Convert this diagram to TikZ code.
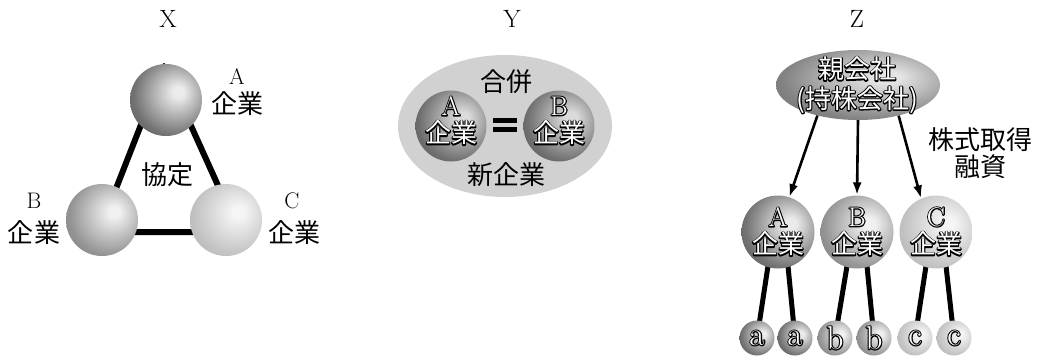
\documentclass[tikz,border=0pt]{standalone}
\usepackage{fontspec}
\newfontfamily\jp{Noto Sans CJK JP}
\usetikzlibrary{arrows.meta,calc,shapes.geometric}
\pgfdeclarelayer{bg}
\pgfsetlayers{bg,main}
\pgfdeclareradialshading[sphhi,sphmid,sphedge]{sphere}{\pgfpoint{9bp}{6bp}}{%
 color(0bp)=(sphhi);color(4bp)=(sphhi);color(28bp)=(sphmid);color(56bp)=(sphedge);color(75bp)=(sphedge)}
\newcommand\outl[1]{\rlap{\special{pdf:literal direct 1 Tr 2.2 w 1 j 0 G}#1\special{pdf:literal direct 0 Tr 0.4 w 0 j}}\textcolor{white}{#1}}
\tikzset{
 lt/.style={inner sep=0pt, font=\fontsize{22.5}{26}\selectfont},
 hd/.style={inner sep=0pt, font=\fontsize{25}{28}\selectfont},
 jt/.style={inner sep=0pt, font=\jp\fontsize{26}{30}\selectfont},
 slt/.style={inner sep=0pt, font=\fontsize{27}{30}\selectfont},
 smt/.style={inner sep=0pt, font=\fontsize{33}{34}\selectfont},
 sph/.style n args={4}{circle, inner sep=0pt, minimum size=#1, /utils/exec={\colorlet{sphhi}{#2}\colorlet{sphmid}{#3}\colorlet{sphedge}{#4}}, shading=sphere},
 dk/.style={sph={#1}{black!8}{black!55}{black!82}},
 md/.style={sph={#1}{black!6}{black!42}{black!63}},
 lg/.style={sph={#1}{black!4}{black!24}{black!40}},
 ysp/.style={sph={#1}{black!14}{black!56}{black!84}},
 pel/.style={ellipse, inner sep=0pt, minimum width=164pt, minimum height=70pt, /utils/exec={\colorlet{sphhi}{black!10}\colorlet{sphmid}{black!48}\colorlet{sphedge}{black!74}}, shading=sphere},
 bar/.style={line width=6pt, line join=round},
 leg/.style={line width=5pt},
 arr/.style={line width=2.6pt, -{Latex[length=13pt,width=9pt]}},
}
\begin{document}
\begin{tikzpicture}[x=1pt,y=-1pt]
\useasboundingbox (0,0) rectangle (1040,359);
% headers
\node[hd] (hX) at (168,19) {X};
\node[hd] (hY) at (512,19) {Y};
\node[hd] (hZ) at (857,19) {Z};
% ---------- X ----------
\node[dk=72pt] (xA) at (166,100) {};
\node[md=72pt] (xB) at (102,220) {};
\node[lg=72pt] (xC) at (226,220) {};
\node[lt] (xAl) at (237,77) {A};
\node[jt] (xAk) at (237,104) {企業};
\node[lt] (xBl) at (34,201) {B};
\node[jt] (xBk) at (34,233) {企業};
\node[lt] (xCl) at (292,201) {C};
\node[jt] (xCk) at (294,233) {企業};
\node[jt] (xM) at (167,175) {協定};
\begin{pgfonlayer}{bg}
\coordinate (tA) at ($(xA.center)+(-2,-34)$);
\coordinate (tB) at ($(xB.center)+(-3,12)$);
\coordinate (tC) at ($(xC.center)+(13,12)$);
\draw[bar] (tA) -- (tB) -- (tC) -- cycle;
\end{pgfonlayer}
% ---------- Y ----------
\node[ellipse, fill=black!18, minimum width=214pt, minimum height=142pt, inner sep=0pt] (yE) at (505,126) {};
\node[jt] (yT) at (506,82) {合併};
\node[jt] (yB) at (506,175) {新企業};
\node[ysp=71pt] (yA) at (451,126) {};
\node[ysp=71pt] (yBs) at (559,126) {};
\node[slt] (yAl) at (451,106) {\outl{A}};
\node[jt] (yAk) at (451,133) {\outl{企業}};
\node[slt] (yBl) at (559,106) {\outl{B}};
\node[jt] (yBk) at (559,133) {\outl{企業}};
\fill (493,118) rectangle (517,123);
\fill (493,127) rectangle (517,132);
% ---------- Z ----------
\node[pel] (zP) at (858,85) {};
\node[jt] (zP1) at (857,69) {\outl{親会社}};
\node[jt] (zP2) at (857,100) {\outl{(持株会社)}};
\node[jt] (zR1) at (980,140) {株式取得};
\node[jt] (zR2) at (980,167) {融資};
\node[dk=73pt] (zA) at (778,232) {};
\node[md=73pt] (zB) at (857,232) {};
\node[lg=73pt] (zC) at (936,232) {};
\node[slt] (zAl) at (778,217) {\outl{A}};
\node[jt] (zAk) at (778,244) {\outl{企業}};
\node[slt] (zBl) at (857,217) {\outl{B}};
\node[jt] (zBk) at (857,244) {\outl{企業}};
\node[slt] (zCl) at (936,217) {\outl{C}};
\node[jt] (zCk) at (936,244) {\outl{企業}};
\node[dk=35pt, smt] (a1) at (757,338) {\outl{a}};
\node[dk=35pt, smt] (a2) at (795,338) {\outl{a}};
\node[md=35pt, smt] (b1) at (835,338) {\outl{b}};
\node[md=35pt, smt] (b2) at (874,338) {\outl{b}};
\node[lg=35pt, smt] (c1) at (915,338) {\outl{c}};
\node[lg=35pt, smt] (c2) at (954,338) {\outl{c}};
\draw[arr] (zP.217) -- (zA.72);
\draw[arr] (zP.south) -- (zB.north);
\draw[arr] (zP.323) -- (zC.114);
\begin{pgfonlayer}{bg}
\draw[leg] ($(zA.center)+(-10,34)$) -- (a1.center);
\draw[leg] ($(zA.center)+(10,34)$) -- (a2.center);
\draw[leg] ($(zB.center)+(-10,34)$) -- (b1.center);
\draw[leg] ($(zB.center)+(10,34)$) -- (b2.center);
\draw[leg] ($(zC.center)+(-10,34)$) -- (c1.center);
\draw[leg] ($(zC.center)+(10,34)$) -- (c2.center);
\end{pgfonlayer}
\end{tikzpicture}
\end{document}
